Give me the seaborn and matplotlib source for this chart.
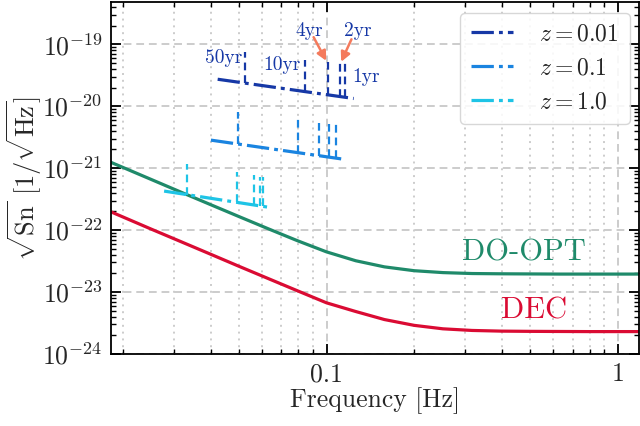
import numpy as np
import pandas as pd
import matplotlib
matplotlib.use("Agg")
import matplotlib.pyplot as plt
from matplotlib.ticker import NullFormatter
import seaborn as sns

# ---------------- data ----------------
freq = [0.0182, 0.0251, 0.0316, 0.0398, 0.0501, 0.0631, 0.0794, 0.100, 0.126,
        0.158, 0.200, 0.251, 0.316, 0.398, 0.501, 0.631, 0.794, 1.00, 1.18]
do_opt = [1.24e-21, 6.52e-22, 4.11e-22, 2.60e-22, 1.65e-22, 1.05e-22, 6.75e-23,
          4.45e-23, 3.20e-23, 2.55e-23, 2.21e-23, 2.06e-23, 1.99e-23, 1.97e-23,
          1.96e-23, 1.95e-23, 1.95e-23, 1.95e-23, 1.95e-23]
dec = [1.97e-22, 1.03e-22, 6.52e-23, 4.12e-23, 2.60e-23, 1.65e-23, 1.05e-23,
       6.70e-24, 4.85e-24, 3.60e-24, 2.90e-24, 2.55e-24, 2.40e-24, 2.34e-24,
       2.32e-24, 2.31e-24, 2.30e-24, 2.30e-24, 2.30e-24]

# source tracks (start / end)
z001_f = [0.0423, 0.124]
z001_h = [2.72e-20, 1.33e-20]
z01_f = [0.0401, 0.1135]
z01_h = [2.83e-21, 1.40e-21]
z1_f = [0.0277, 0.0628]
z1_h = [4.26e-22, 2.35e-22]

# time-to-merger markers: 50yr, 10yr, 4yr, 2yr, 1yr
z001_mark_f = [0.0523, 0.0847, 0.1013, 0.1114, 0.1156]
z001_mark_top = [7.5e-20, 5.52e-20, 5.19e-20, 4.94e-20, 4.94e-20]
z001_mark_bot = [2.36e-20, 1.71e-20, 1.52e-20, 1.43e-20, 1.39e-20]
z01_mark_f = [0.0496, 0.0796, 0.0939, 0.1016, 0.1074]
z01_mark_top = [8.0e-21, 6.16e-21, 5.32e-21, 5.13e-21, 5.13e-21]
z01_mark_bot = [2.45e-21, 1.77e-21, 1.59e-21, 1.50e-21, 1.45e-21]
z1_mark_f = [0.0332, 0.0492, 0.0562, 0.0590, 0.0604]
z1_mark_top = [1.16e-21, 8.6e-22, 7.7e-22, 7.16e-22, 7.16e-22]
z1_mark_bot = [3.73e-22, 2.80e-22, 2.55e-22, 2.46e-22, 2.42e-22]

mark_labels = ["50yr", "10yr", "4yr", "2yr", "1yr"]
mark_label_f = [0.0444, 0.0702, 0.0871, 0.128, 0.137]
mark_label_h = [5.94e-20, 4.68e-20, 1.65e-19, 1.65e-19, 2.99e-20]

arrow_from_f = [0.0903, 0.1218]
arrow_from_h = [1.30e-19, 1.20e-19]
arrow_to_f = [0.0998, 0.1123]
arrow_to_h = [5.4e-20, 5.2e-20]

legend_labels = ["$z = 0.01$", "$z = 0.1$", "$z = 1.0$"]

# ---------------- style ----------------
C_GREEN = "#1F8A6A"
C_RED = "#DA0B33"
C_Z001 = "#1638A6"
C_Z01 = "#1A84E0"
C_Z1 = "#1EC4E6"
C_ARROW = "#F47A5C"

sns.set_theme(style="ticks")
plt.rcParams.update({
    "font.family": "serif",
    "font.serif": ["cmr10", "DejaVu Serif"],
    "mathtext.fontset": "cm",
    "axes.unicode_minus": False,
    "axes.formatter.use_mathtext": True,
    "axes.edgecolor": "black",
    "axes.linewidth": 1.3,
})

fig = plt.figure(figsize=(6.4, 4.26), dpi=100)
ax = fig.add_axes([0.1734, 0.169, 0.8246, 0.8263])
ax.set_xscale("log")
ax.set_yscale("log")

df = pd.DataFrame({"f": freq * 2, "h": do_opt + dec,
                   "curve": ["DO-OPT"] * len(freq) + ["DEC"] * len(freq)})
sns.lineplot(data=df, x="f", y="h", hue="curve",
             palette={"DO-OPT": C_GREEN, "DEC": C_RED},
             lw=2.3, ax=ax, legend=False, estimator=None, sort=False)

dashdot = (0, (7, 1.6, 1.2, 1.6))
tracks = [(z001_f, z001_h, C_Z001, z001_mark_f, z001_mark_top, z001_mark_bot),
          (z01_f, z01_h, C_Z01, z01_mark_f, z01_mark_top, z01_mark_bot),
          (z1_f, z1_h, C_Z1, z1_mark_f, z1_mark_top, z1_mark_bot)]
handles = []
for (tf, th, col, mf, mt, mb), lab in zip(tracks, legend_labels):
    sns.lineplot(x=tf, y=th, color=col, lw=2.3, linestyle=dashdot,
                 ax=ax, estimator=None, sort=False)
    handles.append(ax.lines[-1])
    ax.vlines(mf, mb, mt, colors=col, linestyles=(0, (3.5, 2.2)), lw=1.6)

for lab, fx, hy in zip(mark_labels, mark_label_f, mark_label_h):
    ax.text(fx, hy, lab, color=C_Z001, fontsize=14, ha="center", va="center")

for f0, h0, f1, h1 in zip(arrow_from_f, arrow_from_h, arrow_to_f, arrow_to_h):
    ax.annotate("", xy=(f1, h1), xytext=(f0, h0),
                arrowprops=dict(arrowstyle="-|>", color=C_ARROW, lw=1.8,
                                mutation_scale=14, shrinkA=0, shrinkB=0))

ax.text(0.4766, 4.33e-23, "DO-OPT", color=C_GREEN, fontsize=22,
        ha="center", va="center")
ax.text(0.515, 4.94e-24, "DEC", color=C_RED, fontsize=22,
        ha="center", va="center")

ax.set_xlim(0.0182, 1.18)
ax.set_ylim(1e-24, 4.8e-19)

ax.grid(True, which="major", ls=(0, (4, 2.5)), color="#cccccc", lw=1.4)
ax.xaxis.grid(True, which="minor", ls=(0, (1, 2.5)), color="#cccccc", lw=1.4)
ax.set_axisbelow(True)

ax.tick_params(which="both", direction="in", top=True, right=True,
               color="black")
ax.tick_params(which="major", length=7, width=1.3, labelsize=18.5, pad=6)
ax.tick_params(which="minor", length=3.5, width=1.0)
ax.set_xticks([0.1, 1])
ax.set_xticklabels(["0.1", "1"])
ax.xaxis.set_minor_formatter(NullFormatter())
ax.yaxis.set_minor_formatter(NullFormatter())

ax.set_xlabel("Frequency [Hz]", fontsize=18.5, labelpad=1)
ax.set_ylabel(r"$\sqrt{\mathrm{Sn}}\ [1/\sqrt{\mathrm{Hz}}]$", fontsize=19)
ax.yaxis.set_label_coords(-0.127, 0.5)

leg = ax.legend(handles, legend_labels, loc="upper right", fontsize=17,
                handlelength=1.8, labelspacing=0.5, borderpad=0.45,
                handletextpad=1.1, frameon=True, fancybox=True,
                edgecolor="#d0d0d0", framealpha=0.85,
                bbox_to_anchor=(0.983, 0.969), borderaxespad=0)
leg.get_frame().set_linewidth(1.0)

fig.savefig("out.png", dpi=100)
